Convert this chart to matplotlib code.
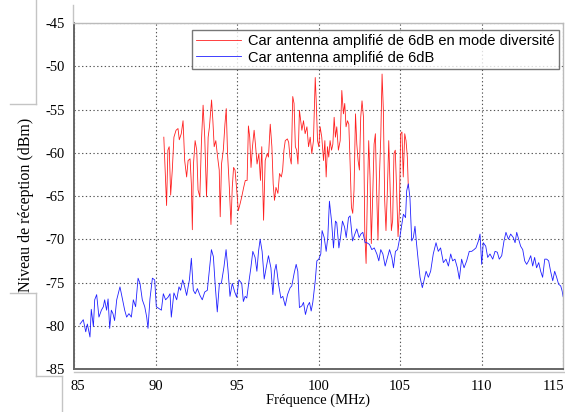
"""
Niveau de réception : antenne amplifiée 6dB, avec et sans diversité.
"""

import matplotlib
matplotlib.use("Agg")
import matplotlib.pyplot as plt
import matplotlib.transforms as mtransforms
from matplotlib.lines import Line2D

# --- données --------------------------------------------------------------
freq_div = [
    90.51, 90.62, 90.68, 90.76, 90.84, 90.93, 91.03, 91.13, 91.26, 91.38,
    91.46, 91.58, 91.69, 91.79, 91.91, 92.00, 92.12, 92.20, 92.26, 92.33,
    92.43, 92.53, 92.61, 92.72, 92.82, 92.92, 93.02, 93.13, 93.23, 93.31,
    93.44, 93.52, 93.60, 93.70, 93.81, 93.91, 93.97, 94.05, 94.16, 94.26,
    94.34, 94.42, 94.53, 94.63, 94.71, 94.79, 94.88, 95.00, 95.08, 95.19,
    95.29, 95.41, 95.51, 95.62, 95.70, 95.78, 95.86, 95.95, 96.05, 96.13,
    96.23, 96.34, 96.44, 96.52, 96.63, 96.73, 96.85, 96.93, 97.04, 97.14,
    97.22, 97.30, 97.39, 97.51, 97.61, 97.72, 97.80, 97.88, 97.96, 98.09,
    98.17, 98.25, 98.33, 98.42, 98.50, 98.58, 98.66, 98.74, 98.83, 98.91,
    98.98, 99.08, 99.18, 99.29, 99.39, 99.49, 99.59, 99.69, 99.80, 99.86,
    99.94, 100.02, 100.10, 100.20, 100.31, 100.39, 100.47, 100.55, 100.63, 100.71,
    100.80, 100.88, 100.96, 101.04, 101.12, 101.22, 101.33, 101.43, 101.53, 101.61,
    101.69, 101.78, 101.86, 101.94, 102.02, 102.10, 102.18, 102.27, 102.35, 102.43,
    102.51, 102.59, 102.67, 102.76, 102.84, 102.92, 103.00, 103.08, 103.16, 103.24,
    103.33, 103.41, 103.49, 103.57, 103.65, 103.73, 103.82, 103.90, 103.98, 104.06,
    104.14, 104.22, 104.31, 104.39, 104.47, 104.55, 104.63, 104.71, 104.80, 104.88,
    104.96, 105.04, 105.12, 105.20, 105.29, 105.37, 105.45, 105.51,
]
niveau_div = [
    -58.2, -63.2, -66.1, -59.7, -59.3, -64.9, -62.0, -58.2, -57.4, -57.2,
    -58.5, -57.8, -56.3, -60.9, -62.8, -60.9, -60.7, -63.6, -68.9, -61.3,
    -58.6, -59.7, -64.3, -65.1, -58.6, -54.5, -58.2, -65.1, -58.2, -57.0,
    -53.9, -56.3, -59.3, -58.6, -60.5, -62.0, -67.4, -61.3, -59.7, -56.7,
    -54.9, -60.1, -64.0, -68.3, -64.0, -61.7, -62.0, -64.7, -66.7, -65.9,
    -65.1, -64.0, -63.2, -63.2, -56.9, -58.2, -61.7, -59.3, -57.4, -59.0,
    -61.3, -60.1, -63.2, -59.3, -67.8, -60.9, -60.1, -60.5, -56.7, -59.3,
    -63.6, -65.5, -64.0, -64.7, -62.4, -62.8, -62.0, -59.7, -58.6, -58.4,
    -58.8, -60.5, -61.3, -53.5, -54.3, -59.3, -59.7, -61.3, -55.1, -56.3,
    -57.4, -56.3, -57.8, -57.0, -59.3, -58.2, -60.1, -58.6, -51.3, -54.0,
    -58.6, -59.3, -57.0, -58.2, -60.9, -58.6, -62.8, -59.3, -60.5, -58.6,
    -59.7, -59.0, -55.9, -58.2, -57.0, -59.7, -58.6, -52.8, -55.5, -54.3,
    -57.0, -56.3, -56.7, -61.3, -66.3, -67.0, -64.3, -55.5, -59.0, -60.9,
    -62.0, -55.9, -54.0, -55.9, -69.3, -72.8, -64.7, -58.6, -62.8, -70.5,
    -64.7, -59.0, -57.8, -64.7, -70.1, -63.2, -58.2, -50.9, -55.1, -65.5,
    -69.0, -64.7, -58.6, -64.0, -69.0, -67.8, -60.1, -59.7, -64.7, -69.7,
    -66.7, -57.8, -57.6, -62.8, -57.8, -58.6, -60.5, -64.0,
]

freq_simple = [
    85.37, 85.57, 85.72, 85.82, 85.98, 86.06, 86.19, 86.27, 86.39, 86.53,
    86.68, 86.80, 86.88, 87.00, 87.09, 87.19, 87.29, 87.39, 87.49, 87.62,
    87.82, 87.97, 88.11, 88.23, 88.37, 88.52, 88.64, 88.78, 88.93, 89.05,
    89.19, 89.34, 89.46, 89.54, 89.66, 89.81, 89.95, 90.05, 90.21, 90.36,
    90.48, 90.62, 90.77, 90.89, 90.97, 91.13, 91.30, 91.44, 91.54, 91.67,
    91.79, 91.91, 92.08, 92.20, 92.32, 92.44, 92.57, 92.73, 92.87, 93.02,
    93.18, 93.30, 93.43, 93.55, 93.67, 93.79, 93.92, 94.04, 94.20, 94.33,
    94.45, 94.57, 94.71, 94.86, 94.98, 95.12, 95.29, 95.39, 95.50, 95.60,
    95.71, 95.85, 95.97, 96.11, 96.22, 96.32, 96.42, 96.54, 96.67, 96.79,
    96.93, 97.08, 97.20, 97.30, 97.40, 97.55, 97.69, 97.81, 97.96, 98.10,
    98.26, 98.36, 98.51, 98.63, 98.73, 98.83, 98.98, 99.08, 99.20, 99.33,
    99.45, 99.55, 99.65, 99.80, 99.90, 100.02, 100.14, 100.22, 100.35, 100.47,
    100.57, 100.67, 100.80, 100.92, 101.04, 101.12, 101.25, 101.35, 101.47, 101.60,
    101.70, 101.84, 101.94, 102.09, 102.23, 102.35, 102.49, 102.60, 102.72, 102.86,
    102.97, 103.13, 103.27, 103.42, 103.58, 103.70, 103.82, 103.95, 104.09, 104.23,
    104.36, 104.50, 104.60, 104.72, 104.85, 104.97, 105.11, 105.21, 105.34, 105.41,
    105.51, 105.61, 105.72, 105.82, 105.92, 106.02, 106.12, 106.23, 106.37, 106.47,
    106.60, 106.74, 106.88, 107.04, 107.21, 107.35, 107.49, 107.66, 107.82, 107.97,
    108.11, 108.23, 108.37, 108.52, 108.64, 108.78, 108.93, 109.09, 109.25, 109.40,
    109.54, 109.66, 109.81, 109.91, 110.01, 110.11, 110.26, 110.38, 110.52, 110.69,
    110.83, 110.97, 111.09, 111.24, 111.38, 111.50, 111.65, 111.79, 111.95, 112.06,
    112.16, 112.28, 112.40, 112.53, 112.65, 112.77, 112.89, 113.02, 113.14, 113.26,
    113.38, 113.51, 113.63, 113.75, 113.88, 114.00, 114.12, 114.24, 114.37, 114.49,
    114.61, 114.73, 114.86, 114.95, 115.00,
]
niveau_simple = [
    -79.8, -79.3, -80.7, -79.8, -81.3, -78.1, -80.1, -77.0, -76.4, -79.0,
    -78.2, -77.8, -77.0, -78.2, -76.9, -80.3, -78.2, -78.6, -79.4, -77.0,
    -75.5, -76.9, -78.2, -79.0, -78.6, -79.0, -77.0, -77.8, -74.5, -75.1,
    -77.0, -77.8, -79.0, -80.3, -76.9, -74.5, -74.7, -77.8, -78.0, -78.2,
    -76.3, -77.0, -76.7, -76.3, -79.0, -76.2, -77.0, -75.5, -75.9, -74.7,
    -75.5, -76.5, -74.7, -72.2, -75.9, -76.3, -75.7, -76.5, -77.0, -76.1,
    -75.9, -73.6, -71.2, -72.0, -75.5, -78.4, -75.1, -75.1, -73.2, -71.2,
    -73.6, -76.6, -75.1, -76.1, -76.7, -74.7, -75.1, -77.2, -76.6, -76.8,
    -75.2, -73.3, -71.4, -72.1, -73.7, -71.4, -70.0, -71.4, -74.6, -73.3,
    -71.9, -73.3, -76.4, -73.7, -72.9, -75.2, -76.8, -76.6, -77.7, -76.4,
    -75.6, -75.4, -73.9, -72.9, -73.7, -77.9, -77.7, -77.3, -78.7, -77.7,
    -77.3, -78.3, -77.3, -74.8, -72.5, -72.3, -71.7, -69.0, -69.8, -71.4,
    -69.8, -65.6, -67.9, -71.0, -67.9, -68.1, -71.0, -69.8, -67.9, -68.6,
    -69.8, -67.5, -67.3, -70.2, -69.4, -68.8, -69.8, -69.4, -69.2, -70.4,
    -70.4, -70.6, -71.2, -71.0, -71.7, -72.5, -71.2, -71.7, -73.1, -72.1,
    -71.2, -72.1, -73.3, -71.4, -71.2, -70.0, -68.3, -67.1, -67.5, -64.4,
    -63.6, -65.2, -70.2, -69.8, -68.5, -70.6, -72.5, -74.4, -75.6, -74.8,
    -73.7, -74.4, -73.7, -71.7, -70.4, -71.4, -71.0, -72.7, -72.3, -73.1,
    -71.7, -72.5, -72.3, -73.3, -74.6, -72.3, -73.3, -72.5, -71.4, -71.4,
    -71.2, -71.0, -70.2, -69.4, -72.9, -70.4, -70.8, -72.1, -71.7, -72.3,
    -71.4, -71.5, -72.3, -71.9, -70.2, -69.2, -70.0, -69.4, -69.8, -70.4,
    -69.2, -70.0, -70.8, -71.2, -72.5, -72.9, -72.5, -71.9, -73.1, -72.1,
    -73.3, -72.7, -73.7, -74.4, -72.3, -72.3, -72.5, -73.7, -74.8, -73.7,
    -74.4, -75.2, -75.4, -76.0, -76.6,
]

label_div = "Car antenna amplifié de 6dB en mode diversité"
label_simple = "Car antenna amplifié de 6dB"
xticks = [85, 90, 95, 100, 105, 110, 115]
yticks = [-85, -80, -75, -70, -65, -60, -55, -50, -45]

W, H = 565, 412
SERIF = "Liberation Serif"
SANS = "Liberation Sans"
plt.rcParams["font.family"] = "serif"
plt.rcParams["font.serif"] = [SERIF, "DejaVu Serif"]
plt.rcParams["axes.unicode_minus"] = False

fig = plt.figure(figsize=(W / 100, H / 100), dpi=100)
ax = fig.add_axes([74 / W, 1 - 369 / H, (563 - 74) / W, (369 - 23) / H])

ax.plot(freq_div, niveau_div, color="#ff2020", lw=0.6, label=label_div)
ax.plot(freq_simple, niveau_simple, color="#2020ff", lw=0.6, label=label_simple)

ax.set_xlim(85, 115)
ax.set_ylim(-85, -45)
ax.set_xticks(xticks)
ax.set_xticklabels([str(t) for t in xticks], fontfamily=SERIF, fontsize=10.5)
ax.set_yticks(yticks)
ax.set_yticklabels([str(t) for t in yticks], fontfamily=SERIF, fontsize=10.5)
ax.tick_params(length=0)
ax.tick_params(axis="x", pad=8)
ax.tick_params(axis="y", pad=6.5)

# les étiquettes extrêmes sont rentrées dans le cadre, comme sur l'original
xlabs = ax.get_xticklabels()
for lab, dx in ((xlabs[0], 4), (xlabs[-1], -9)):
    lab.set_transform(lab.get_transform()
                      + mtransforms.ScaledTranslation(dx / 100, 0, fig.dpi_scale_trans))

ax.grid(True, color="#555555", linestyle=(0, (1.2, 2.2)), linewidth=0.8)
ax.set_axisbelow(True)
for side in ("left", "bottom"):
    ax.spines[side].set_color("#666666")
    ax.spines[side].set_linewidth(1.4)
for side in ("top", "right"):
    ax.spines[side].set_color("#bbbbbb")
    ax.spines[side].set_linewidth(1.0)

ax.set_xlabel("Fréquence (MHz)", fontsize=10.5)
ax.xaxis.set_label_coords(0.5, (369 - 394) / 346)
ax.set_ylabel("Niveau de réception (dBm)", fontsize=11.5)
ax.yaxis.set_label_coords((34 - 74) / 489, (369 - 205) / 346)

leg = ax.legend(loc="upper right", bbox_to_anchor=((559 - 74) / 489, (369 - 30) / 346),
                borderaxespad=0, fancybox=False, frameon=True, handlelength=3.1,
                labelspacing=0.15, borderpad=0.3, handletextpad=0.45,
                prop={"family": SANS, "size": 10.5})
leg.get_frame().set_edgecolor("#555555")
leg.get_frame().set_linewidth(1.0)


# traits gris du cadre d'origine (coordonnées en pixels)
def trait(x0, y0, x1, y1):
    fig.add_artist(Line2D([x0 / W, x1 / W], [1 - y0 / H, 1 - y1 / H],
                          transform=fig.transFigure, color="#c4c4c4", lw=1.0))


trait(36, 0, 36, 104)
trait(10, 104, 36, 104)
trait(73, 5, 73, 23)
trait(10, 293, 36, 293)
trait(36, 293, 36, 376)
trait(36, 376, 62, 376)
trait(62, 376, 62, 412)
trait(74, 371.5, 564, 371.5)

fig.savefig("out.png", dpi=100)
